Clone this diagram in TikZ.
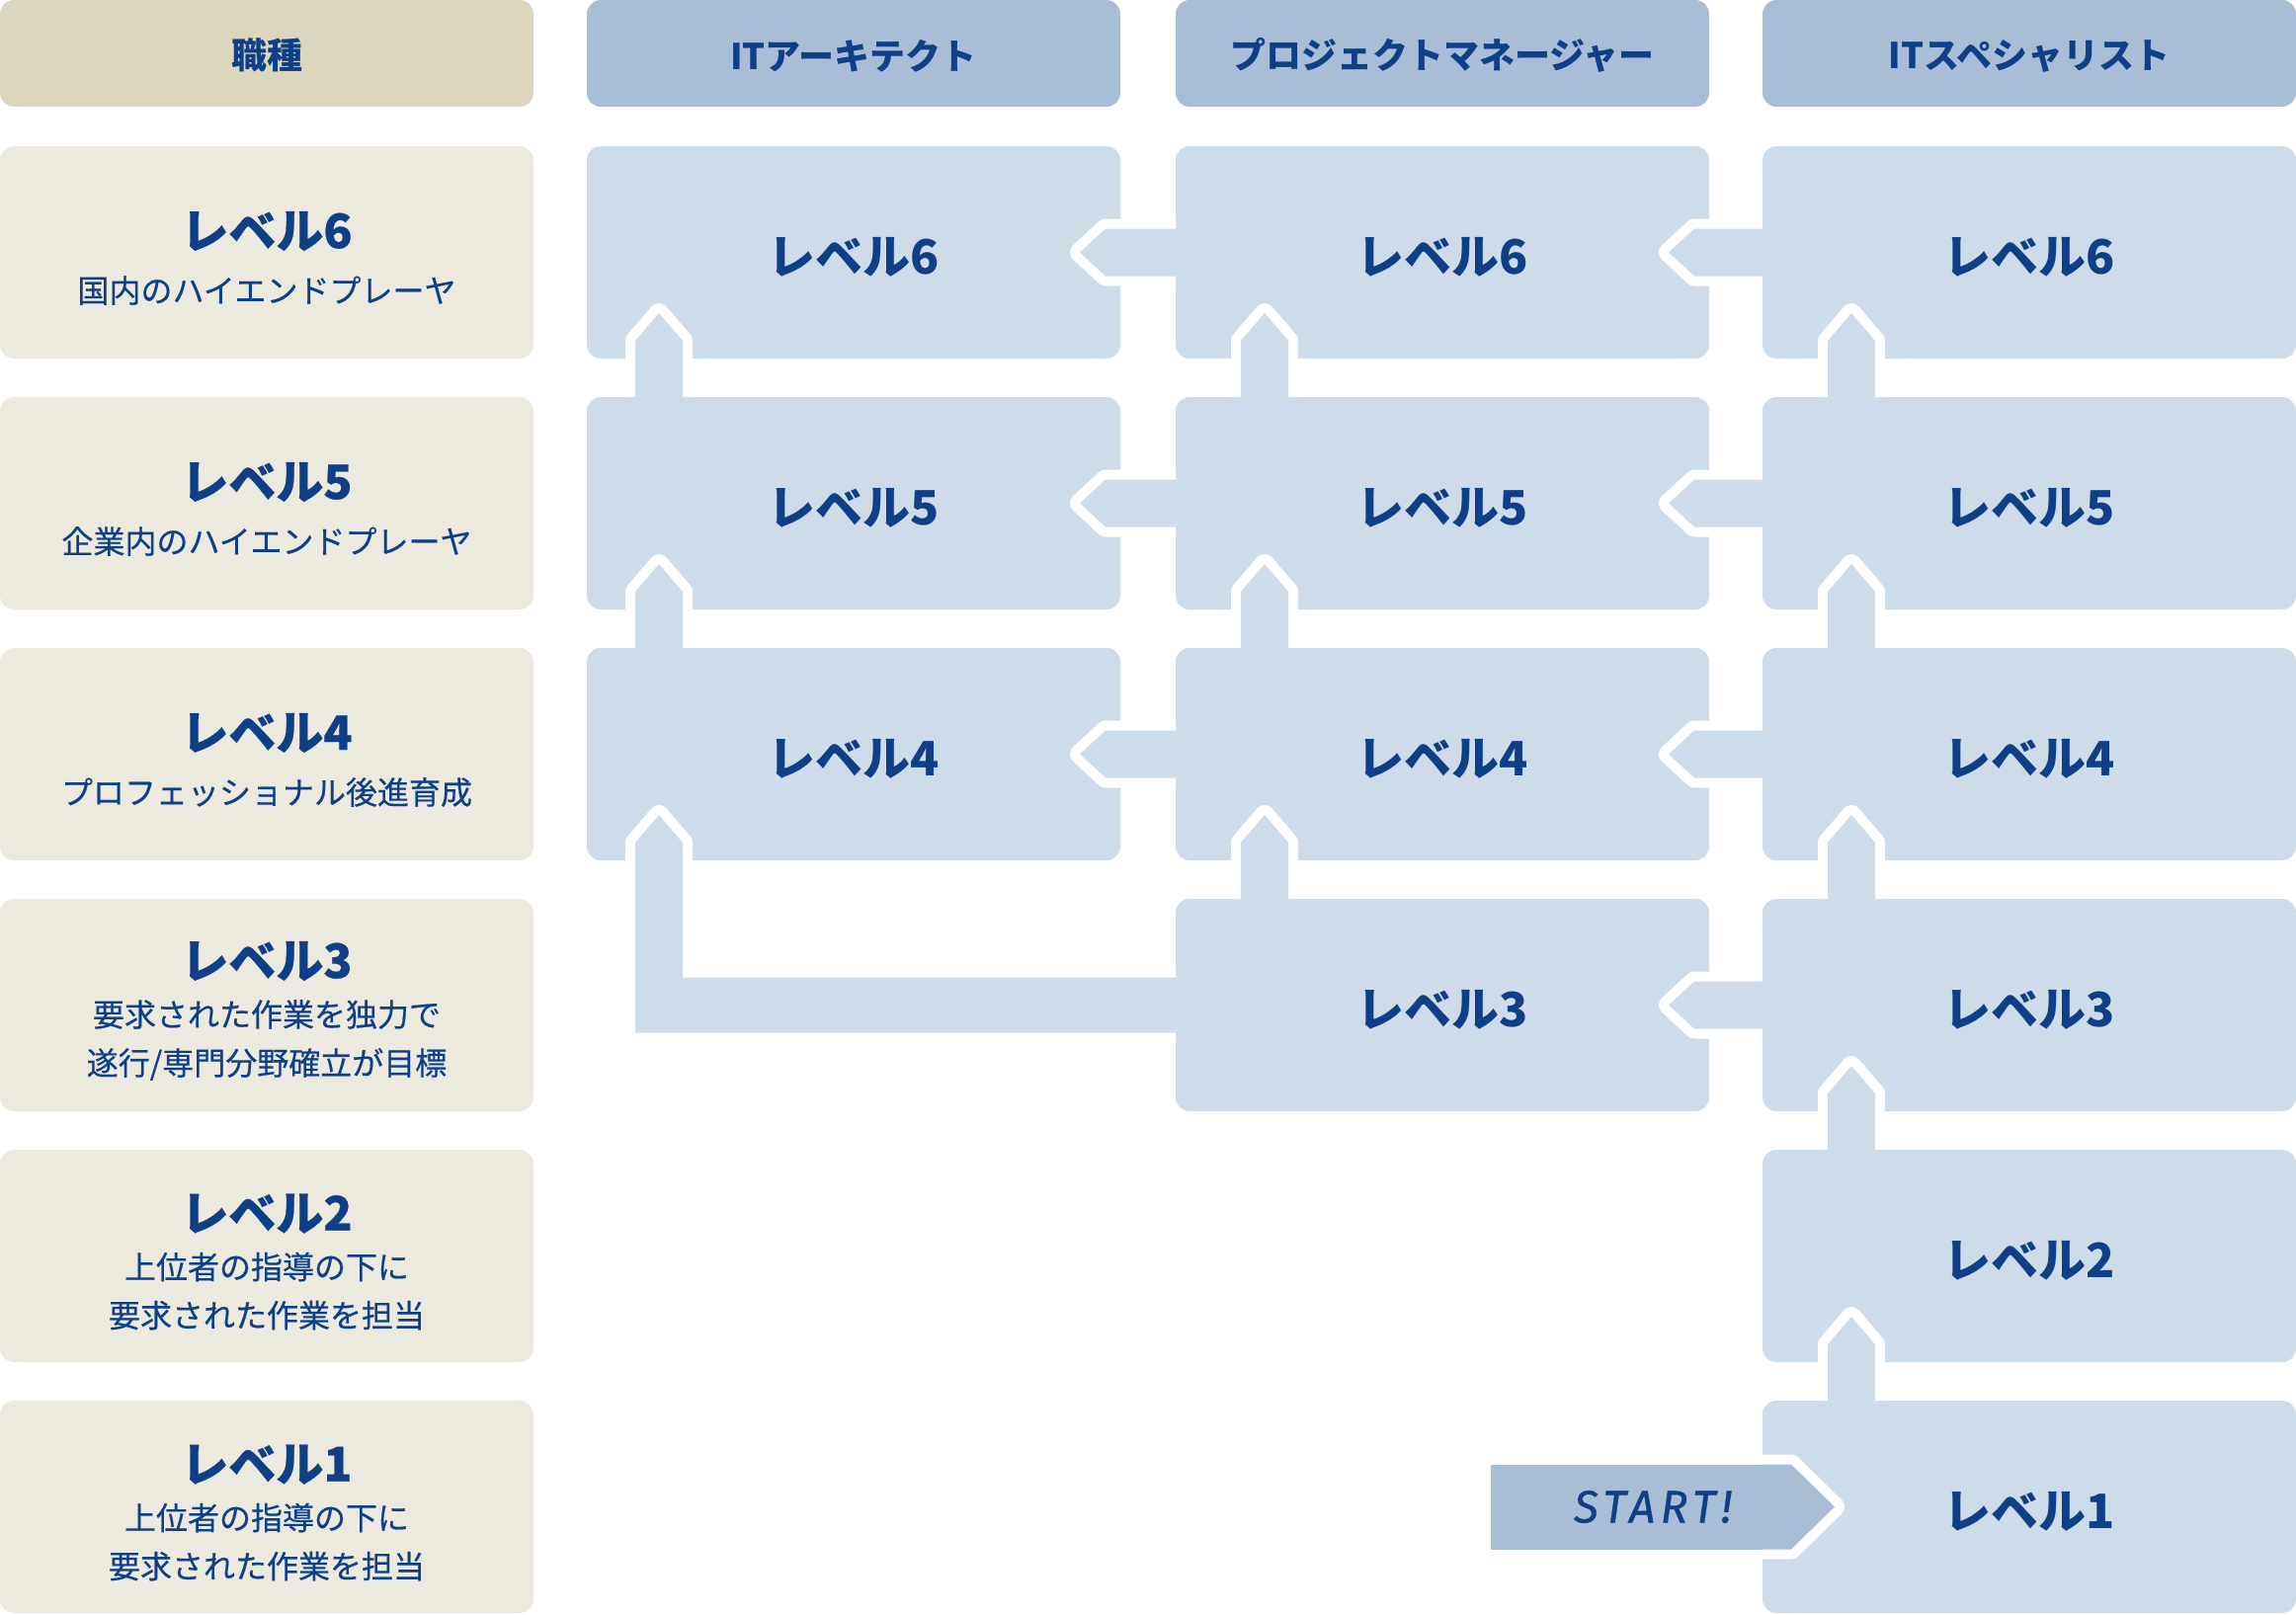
\documentclass[tikz,border=0pt]{standalone}
\usepackage{fontspec}
\usepackage{tikz}
\setmainfont{Noto Sans CJK JP}
\newfontfamily\subfont[FakeBold=0.5]{Noto Sans CJK JP}
\newfontfamily\startfont[LetterSpace=12, FakeBold=0.8]{Fira Sans}
\newcommand{\lvfont}{\fontsize{48}{56}\selectfont\bfseries}
\definecolor{navy}{HTML}{0F3F87}
\definecolor{jobbeige}{HTML}{DDD6BE}
\definecolor{lvbeige}{HTML}{ECEADF}
\definecolor{headblue}{HTML}{A8BED6}
\definecolor{cellblue}{HTML}{CEDBE9}

\begin{document}
\begin{tikzpicture}[x=1pt, y=-1pt,
    box/.style={rectangle, rounded corners=14pt, minimum width=540pt, inner sep=0pt, outer sep=0pt, text=navy},
    jobhead/.style={box, fill=jobbeige, minimum height=108pt, text height=35pt, font=\fontsize{36}{43}\selectfont\bfseries},
    colhead/.style={box, fill=headblue, minimum height=108pt, text height=35pt, font=\fontsize{36}{43}\selectfont\bfseries},
    jobcell/.style={box, fill=lvbeige, minimum height=215pt, align=center, font=\subfont\fontsize{32}{49}\selectfont},
    cell/.style={box, fill=cellblue, minimum height=215pt, text height=46pt, font=\lvfont},
    link/.style={fill=cellblue, preaction={draw=white, line width=20pt, line join=round}},
    hlink/.style={link, to path={([yshift=24pt]\tikztostart.west) -- ([xshift=-15pt,yshift=24pt]\tikztotarget.east)
        -- ([xshift=-41pt]\tikztotarget.east) -- ([xshift=-15pt,yshift=-24pt]\tikztotarget.east)
        -- ([yshift=-24pt]\tikztostart.west)}},
    vlink/.style={link, to path={([xshift=#1pt-24pt]\tikztostart.north) -- ([xshift=#1pt-24pt,yshift=18pt]\tikztotarget.south)
        -- ([xshift=#1pt,yshift=46pt]\tikztotarget.south) -- ([xshift=#1pt+24pt,yshift=18pt]\tikztotarget.south)
        -- ([xshift=#1pt+24pt]\tikztostart.north)}},
    startlink/.style={fill=headblue, preaction={draw=white, line width=20pt, line join=round},
        to path={([xshift=-30pt]\tikztostart.north east) -- (\tikztostart.north east) -- ([xshift=73pt]\tikztotarget.west)
        -- (\tikztostart.south east) -- ([xshift=-30pt]\tikztostart.south east)}}]

\useasboundingbox (0,0) rectangle (2324,1634);

% Header row
\node[jobhead] (hjob) at (270,54) {職種};
\node[colhead] (har) at (864,54) {ITアーキテクト};
\node[colhead] (hpm) at (1460,54) {プロジェクトマネージャー};
\node[colhead] (hsp) at (2054,54) {ITスペシャリスト};

% Level column
\node[jobcell] (lv6) at (270,255.5) {{\lvfont\rule{0pt}{49pt}レベル6}\\[6pt]国内のハイエンドプレーヤ};
\node[jobcell] (lv5) at (270,509.5) {{\lvfont\rule{0pt}{49pt}レベル5}\\[6pt]企業内のハイエンドプレーヤ};
\node[jobcell] (lv4) at (270,763.5) {{\lvfont\rule{0pt}{49pt}レベル4}\\[6pt]プロフェッショナル後進育成};
\node[jobcell] (lv3) at (270,1017.5) {{\lvfont\rule{0pt}{49pt}レベル3}\\要求された作業を独力で\\遂行/専門分野確立が目標};
\node[jobcell] (lv2) at (270,1271.5) {{\lvfont\rule{0pt}{49pt}レベル2}\\上位者の指導の下に\\要求された作業を担当};
\node[jobcell] (lv1) at (270,1525.5) {{\lvfont\rule{0pt}{49pt}レベル1}\\上位者の指導の下に\\要求された作業を担当};

% IT architect
\node[cell] (ar6) at (864,255.5) {レベル6};
\node[cell] (ar5) at (864,509.5) {レベル5};
\node[cell] (ar4) at (864,763.5) {レベル4};

% Project manager
\node[cell] (pm6) at (1460,255.5) {レベル6};
\node[cell] (pm5) at (1460,509.5) {レベル5};
\node[cell] (pm4) at (1460,763.5) {レベル4};
\node[cell] (pm3) at (1460,1017.5) {レベル3};

% IT specialist
\node[cell] (sp6) at (2054,255.5) {レベル6};
\node[cell] (sp5) at (2054,509.5) {レベル5};
\node[cell] (sp4) at (2054,763.5) {レベル4};
\node[cell] (sp3) at (2054,1017.5) {レベル3};
\node[cell] (sp2) at (2054,1271.5) {レベル2};
\node[cell] (sp1) at (2054,1525.5) {レベル1};

% Start
\node[box, rounded corners=0pt, fill=headblue, minimum width=304pt, minimum height=86pt,
    font=\startfont\itshape\fontsize{46}{52}\selectfont] (start) at (1661,1525.5) {\hspace*{24pt}START!};
\path[startlink] (start) to (sp1);

% Moves to the left
\path[hlink] (sp6) to (pm6);
\path[hlink] (sp5) to (pm5);
\path[hlink] (sp4) to (pm4);
\path[hlink] (sp3) to (pm3);
\path[hlink] (pm6) to (ar6);
\path[hlink] (pm5) to (ar5);
\path[hlink] (pm4) to (ar4);

% Moves up
\path[vlink=-180] (sp1) to (sp2);
\path[vlink=-180] (sp2) to (sp3);
\path[vlink=-180] (sp3) to (sp4);
\path[vlink=-180] (sp4) to (sp5);
\path[vlink=-180] (sp5) to (sp6);
\path[vlink=-180] (pm3) to (pm4);
\path[vlink=-180] (pm4) to (pm5);
\path[vlink=-180] (pm5) to (pm6);
\path[vlink=-197] (ar4) to (ar5);
\path[vlink=-197] (ar5) to (ar6);

% Level 3 to IT architect
\coordinate (bend) at (667,1017.5);
\path[link] ([yshift=28pt]pm3.west) -- ([xshift=24pt,yshift=28pt]bend) -- ([xshift=-173pt,yshift=18pt]ar4.south)
    -- ([xshift=-197pt,yshift=46pt]ar4.south) -- ([xshift=-221pt,yshift=18pt]ar4.south)
    -- ([xshift=-24pt,yshift=-28pt]bend) -- ([yshift=-28pt]pm3.west);

\end{tikzpicture}
\end{document}
